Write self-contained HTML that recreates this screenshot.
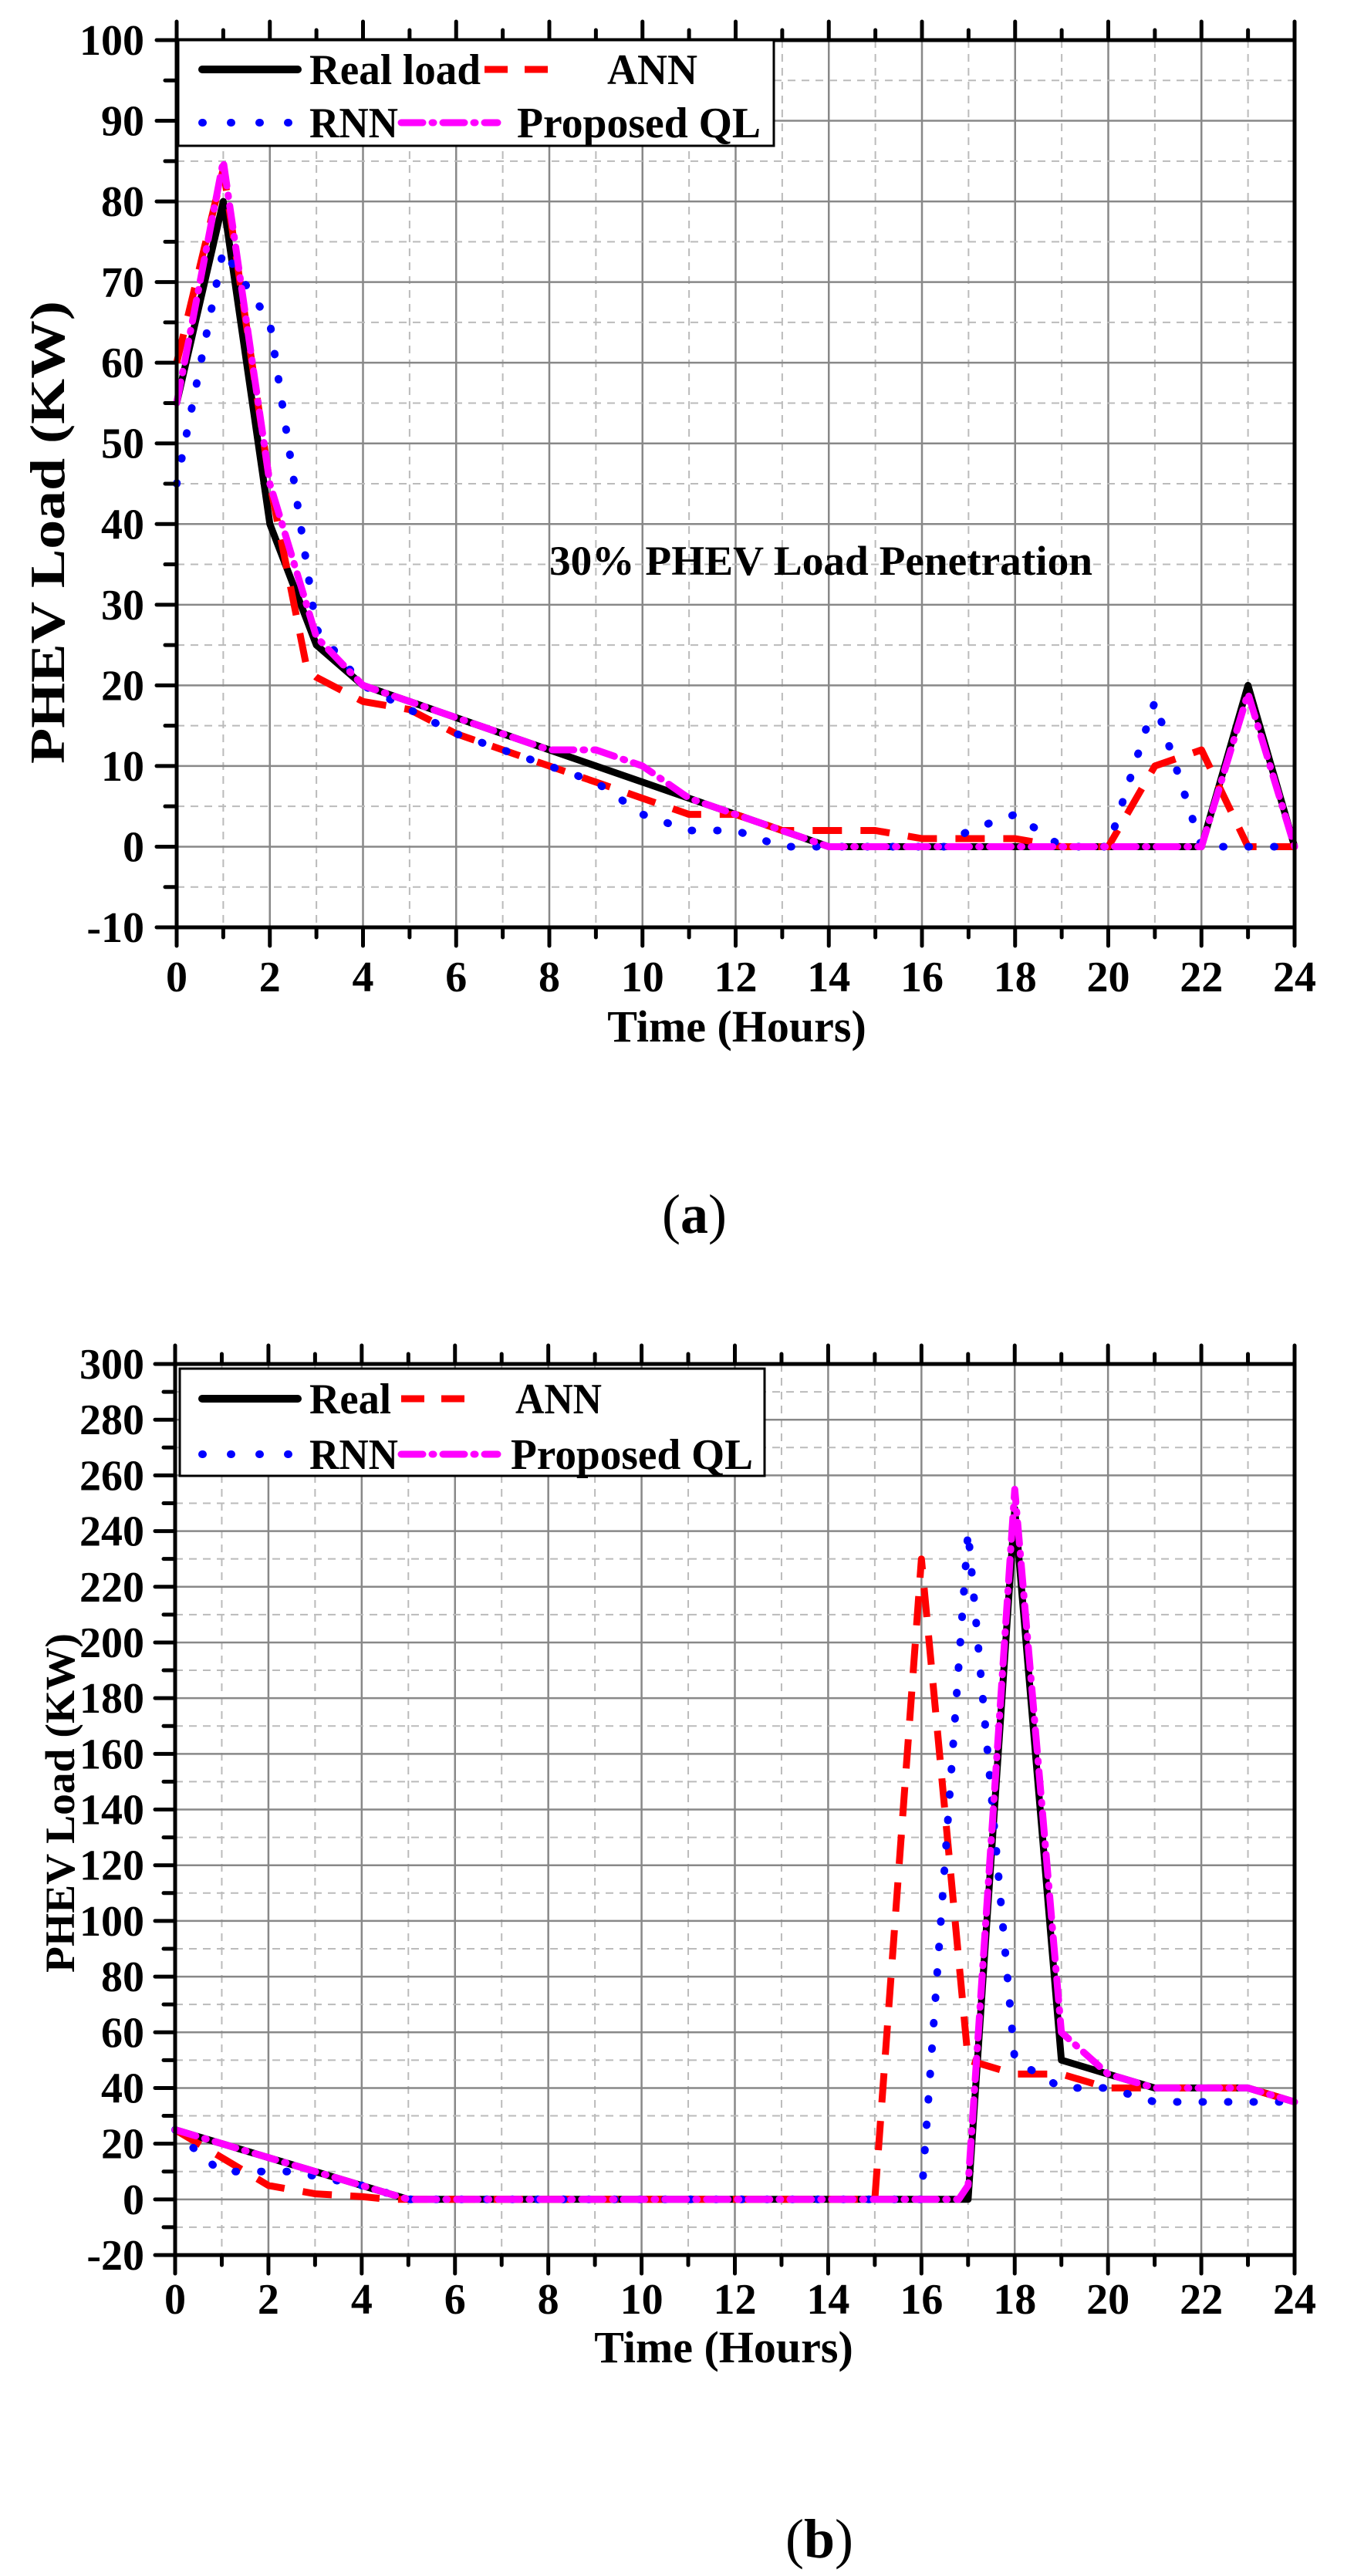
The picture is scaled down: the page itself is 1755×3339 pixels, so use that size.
<!DOCTYPE html>
<html><head><meta charset="utf-8"><style>
html,body{margin:0;padding:0;background:#fff;}
svg{display:block;}
text{font-family:"Liberation Serif",serif;font-weight:bold;fill:#000;}
</style></head><body>
<svg id="s" width="1755" height="3339" viewBox="0 0 1755 3339" xmlns="http://www.w3.org/2000/svg"></svg>
<script>
var s=document.getElementById('s');var out='';
function L(x1,y1,x2,y2,st){out+='<line x1="'+x1+'" y1="'+y1+'" x2="'+x2+'" y2="'+y2+'" '+st+'/>';}
function T(x,y,t,st){out+='<text x="'+x+'" y="'+y+'" '+st+'>'+t+'</text>';}
function plot(o){
 var X=function(h){return o.l+h*(o.r-o.l)/24;};
 var Y=function(v){return o.t+(o.ymax-v)*(o.b-o.t)/(o.ymax-o.ymin);};
 for(var h=1;h<24;h++){var x=X(h);
  if(h%2==0)L(x,o.t,x,o.b,'stroke="#888" stroke-width="2.5"');
  else L(x,o.t,x,o.b,'stroke="#bbb" stroke-width="2" stroke-dasharray="10,8"');}
 for(var v=o.ymin+o.minor;v<o.ymax;v+=o.minor){var y=Y(v);
  if(Math.round((v-o.ymin)/o.minor)%2==0)L(o.l,y,o.r,y,'stroke="#888" stroke-width="2.5"');
  else L(o.l,y,o.r,y,'stroke="#bbb" stroke-width="2" stroke-dasharray="10,8"');}
 if(o.note)T(712,745,o.note,'font-size="54" textLength="704" lengthAdjust="spacingAndGlyphs"');
 function P(d,st){var p='';for(var i=0;i<d.length;i++){p+=(i?'L':'M')+X(d[i][0]).toFixed(1)+' '+Y(d[i][1]).toFixed(1);}
  out+='<path d="'+p+'" fill="none" stroke-linejoin="round" '+st+'/>';}
 P(o.real,'stroke="#000" stroke-width="9"');
 P(o.ann,'stroke="#f00" stroke-width="9" stroke-dasharray="38,24"');
 P(o.rnn,'stroke="#00f" stroke-width="10" stroke-linecap="round" stroke-dasharray="1,32"');
 P(o.ql,'stroke="#f0f" stroke-width="9" stroke-linecap="round" stroke-dasharray="28,12,2,12"');
 out+='<rect x="'+o.l+'" y="'+o.t+'" width="'+(o.r-o.l)+'" height="'+(o.b-o.t)+'" fill="none" stroke="#000" stroke-width="5"/>';
 for(var h=0;h<=24;h++){var x=X(h);var len=(h%2==0)?24:13;
  L(x,o.b,x,o.b+len,'stroke="#000" stroke-width="5" stroke-linecap="round"');
  L(x,o.t,x,o.t-len,'stroke="#000" stroke-width="5" stroke-linecap="round"');
  if(h%2==0)T(x,o.xlb,h,'font-size="56" text-anchor="middle"');}
 for(var v=o.ymin;v<=o.ymax;v+=o.minor){var y=Y(v);var maj=Math.round((v-o.ymin)/o.minor)%2==0;
  L(o.l,y,o.l-(maj?26:15),y,'stroke="#000" stroke-width="5" stroke-linecap="round"');
  if(maj)T(187,y+19,v,'font-size="56" text-anchor="end"');}
 out+='<rect x="'+o.lg[0]+'" y="'+o.lg[1]+'" width="'+(o.lg[2]-o.lg[0])+'" height="'+(o.lg[3]-o.lg[1])+'" fill="#fff" stroke="#000" stroke-width="3"/>';
 var r1=o.lr1,r2=o.lr2;
 L(262,r1,386,r1,'stroke="#000" stroke-width="10" stroke-linecap="round"');
 L(o.annx[0],r1,o.annx[1],r1,'stroke="#f00" stroke-width="9" stroke-dasharray="30,22"');
 L(262,r2,384,r2,'stroke="#00f" stroke-width="10" stroke-linecap="round" stroke-dasharray="1,36"');
 L(520,r2,645,r2,'stroke="#f0f" stroke-width="9" stroke-linecap="round" stroke-dasharray="28,12,2,12"');
 T(401,r1+19,o.realName,'font-size="56" textLength="'+o.realW+'" lengthAdjust="spacingAndGlyphs"');
 T(o.annT,r1+19,'ANN','font-size="56" textLength="'+o.annW+'" lengthAdjust="spacingAndGlyphs"');
 T(401,r2+19,'RNN','font-size="56" textLength="115" lengthAdjust="spacingAndGlyphs"');
 T(o.qlT,r2+19,'Proposed QL','font-size="56" textLength="'+o.qlW+'" lengthAdjust="spacingAndGlyphs"');
 T(o.xlx,o.xly,'Time (Hours)','font-size="58" text-anchor="middle"');
 out+='<text x="0" y="0" font-size="'+o.yfs+'" text-anchor="middle" textLength="'+o.ylen+'" lengthAdjust="spacingAndGlyphs" transform="translate('+(o.ylx+20)+','+o.yly+') rotate(-90)">PHEV Load (KW)</text>';
}
plot({l:229,r:1678,t:52,b:1202,ymin:-10,ymax:100,minor:5,xlb:1285,note:'30% PHEV Load Penetration',
 real:[[0,55],[1,80],[2,40],[3,25],[4,20],[5,18],[6,16],[7,14],[8,12],[9,10],[10,8],[11,6],[12,4],[13,2],[14,0],[22,0],[23,20],[24,0]],
 ann:[[0,60],[1,84],[2,45],[2.8,22],[3,21],[4,18],[5,17],[6,14],[7,12],[8,10],[9,8],[10,6],[11,4],[12,4],[13,2],[15,2],[16,1],[18,1],[19,0],[20,0],[21,10],[22,12],[23,0],[24,0]],
 rnn:[[0,45],[1,74],[2,65],[3,27],[4,20],[5,17],[6,14],[7,12],[8,10],[9,8],[10,4],[11,2],[12,2],[13,0],[16.5,0],[17,2],[18,4],[19,0],[20,0],[21,18],[22,0],[24,0]],
 ql:[[0,55],[1,85],[2,45],[3,26],[4,20],[5,18],[6,16],[7,14],[8,12],[9,12],[10,10],[11,6],[12,4],[13,2],[14,0],[22,0],[23,19],[24,0]],
 lg:[231,52,1003,189],lr1:90,lr2:159,annx:[628,725],realName:'Real load',realW:222,annT:787,annW:117,qlT:670,qlW:316,
 xlx:955,xly:1350,ylx:63,yly:690,yfs:64,ylen:600});
out+='<text x="900" y="1598" font-size="72" text-anchor="middle" style="font-weight:normal">(<tspan font-weight="bold">a</tspan>)</text>';
plot({l:227,r:1678,t:1768,b:2923,ymin:-20,ymax:300,minor:10,xlb:2999,
 real:[[0,25],[1,20],[2,15],[3,10],[4,5],[5,0],[17,0],[18,248],[19,50],[20,45],[21,40],[23,40],[24,35]],
 ann:[[0,25],[1,15],[1.5,10],[2,5],[3,2],[4,1],[4.6,0],[15,0],[16,230],[17,50],[18,45],[19,45],[20,40],[23,40],[24,35]],
 rnn:[[0,25],[0.6,15],[1,10],[2.5,10],[4,5],[5,0],[16,0],[17,240],[18,50],[19,40],[20,40],[21,35],[24,35]],
 ql:[[0,25],[1,20],[2,15],[3,10],[4,5],[5,0],[16.8,0],[17,5],[18,255],[19,60],[20,45],[21,40],[23,40],[24,35]],
 lg:[233,1774,991,1913],lr1:1813,lr2:1885,annx:[520,620],realName:'Real',realW:106,annT:668,annW:112,qlT:662,qlW:314,
 xlx:938,xly:3062,ylx:76,yly:2337,yfs:54,ylen:440});
out+='<text x="1062" y="3315" font-size="72" text-anchor="middle" style="font-weight:normal">(<tspan font-weight="bold">b</tspan>)</text>';
s.innerHTML=out;
</script>
</body></html>
